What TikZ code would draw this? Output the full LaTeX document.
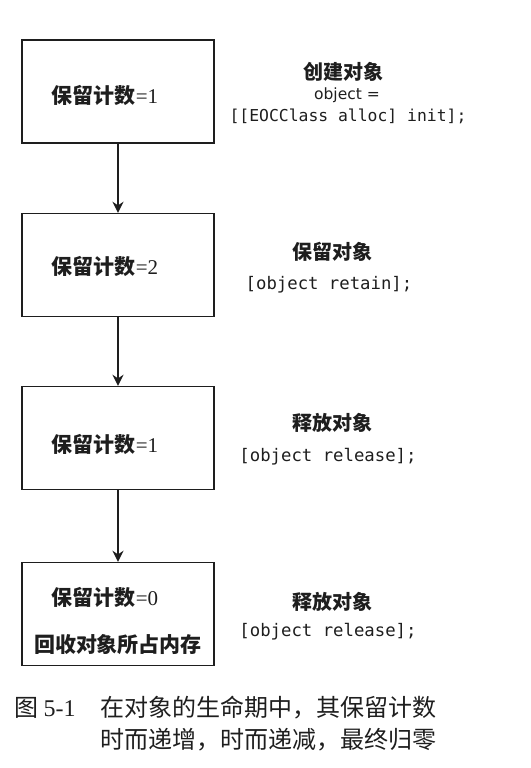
\documentclass[tikz,border=0pt]{standalone}
\usepackage{fontspec}
\setmainfont{Liberation Serif}
\newfontfamily\cjk{Noto Sans CJK SC}
\newfontfamily\codef{DejaVu Sans Mono}
\newfontfamily\sansf{DejaVu Sans}
\usetikzlibrary{arrows.meta}
\definecolor{ink}{HTML}{1E1E1E}
\tikzset{
  box/.style={draw=ink, line width=1.4pt, minimum width=192pt, minimum height=103pt, inner sep=0pt},
  countlbl/.style={text=ink, font=\fontsize{21}{25}\selectfont, inner sep=0pt, anchor=center},
  actlbl/.style={text=ink, font=\cjk\bfseries\fontsize{20}{24}\selectfont, inner sep=0pt, anchor=center},
  codelbl/.style={text=ink, font=\codef\fontsize{17.3}{20}\selectfont, inner sep=0pt, anchor=center},
  flow/.style={draw=ink, line width=1.8pt, -{Stealth[length=11pt,width=11pt]}},
  captxt/.style={text=ink, font=\cjk\fontsize{24}{28}\selectfont, inner sep=0pt},
}
\begin{document}
\begin{tikzpicture}[x=1pt,y=-1pt]
\useasboundingbox (0,0) rectangle (530,768);
% boxes
\node[box] (b1) at (118,91.5) {};
\node[box] (b2) at (118,265) {};
\node[box] (b3) at (118,438) {};
\node[box] (b4) at (118,614) {};
% box labels
\node[countlbl] (c1) at (105,95) {{\cjk\bfseries 保留计数}=1};
\node[countlbl] (c2) at (105,266) {{\cjk\bfseries 保留计数}=2};
\node[countlbl] (c3) at (105,444) {{\cjk\bfseries 保留计数}=1};
\node[countlbl] (c4) at (105,597) {{\cjk\bfseries 保留计数}=0};
\node[countlbl] (c5) at (118,645) {{\cjk\bfseries 回收对象所占内存}};
% arrows
\draw[flow] (b1.south) -- (b2.north);
\draw[flow] (b2.south) -- (b3.north);
\draw[flow] (b3.south) -- (b4.north);
% right labels
\node[actlbl] (a1) at (343,72) {创建对象};
\node[text=ink, font=\sansf\fontsize{15.5}{18}\selectfont, inner sep=0pt] (o1) at (347,95) {object =};
\node[codelbl, font=\codef\fontsize{16.4}{20}\selectfont] (k1) at (348,116) {[[EOCClass alloc] init];};
\node[actlbl] (a2) at (332,252) {保留对象};
\node[codelbl] (k2) at (329,285) {[object retain];};
\node[actlbl] (a3) at (332,423) {释放对象};
\node[codelbl] (k3) at (328,457) {[object release];};
\node[actlbl] (a4) at (332,602) {释放对象};
\node[codelbl] (k4) at (328,632) {[object release];};
% caption
\node[captxt, anchor=west] (f1) at (14,708) {图 {\rmfamily 5-1}};
\node[captxt, anchor=west] (t1) at (100,708) {在对象的生命期中，其保留计数};
\node[captxt, anchor=west] (t2) at (100,740) {时而递增，时而递减，最终归零};
\end{tikzpicture}
\end{document}
